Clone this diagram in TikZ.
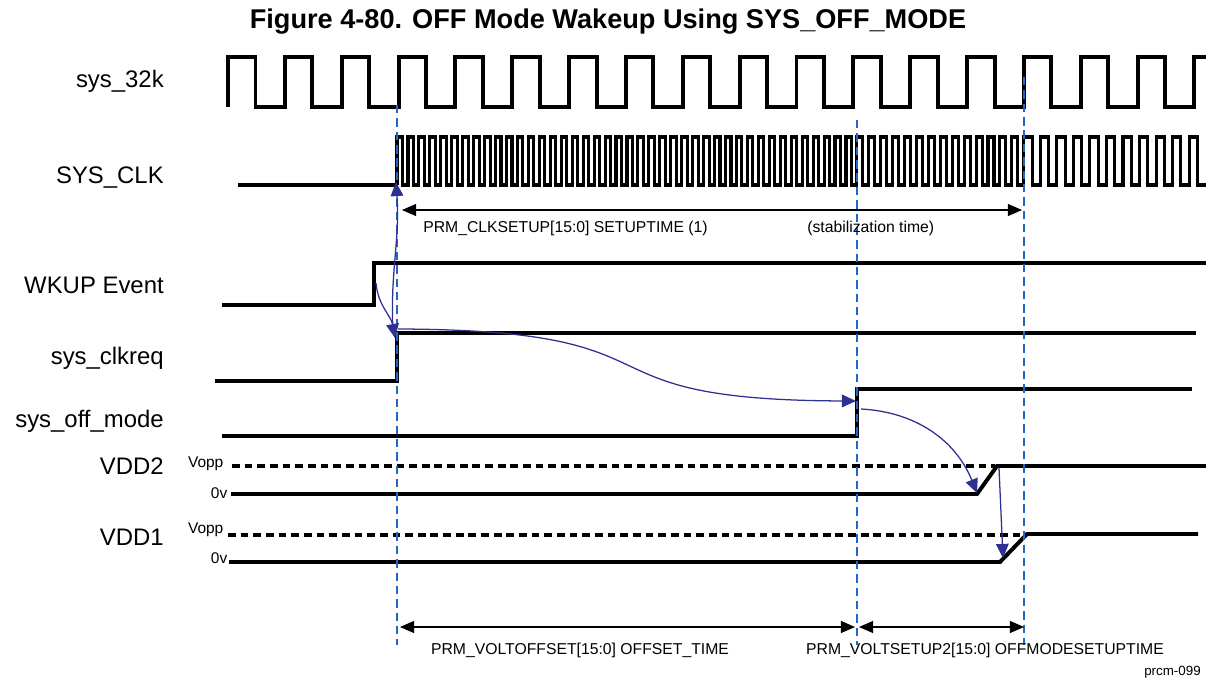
\documentclass[tikz,border=0pt]{standalone}
\usepackage{fontspec}
\setmainfont{Liberation Sans}
\usetikzlibrary{arrows,arrows.meta}
\definecolor{cblue}{RGB}{46,49,146}
\definecolor{gblue}{RGB}{31,104,200}

\begin{document}
\begin{tikzpicture}[x=0.025cm,y=-0.025cm,
signame/.style={font=\fontsize{17}{20}\selectfont,anchor=base east,inner sep=0pt},
note/.style={font=\fontsize{11.2}{13}\selectfont,inner sep=0pt},
volt/.style={font=\fontsize{11}{12}\selectfont,anchor=east,inner sep=1pt},
sig/.style={line width=2.8pt,line join=miter},
clk/.style={line width=2.2pt,line join=miter},
level/.style={line width=2.5pt,dash pattern=on 5.5pt off 3.5pt},
guide/.style={gblue,line width=0.9pt,dash pattern=on 6pt off 3.5pt},
cause/.style={cblue,line width=0.9pt,-{Triangle[length=10pt,width=9pt]}},
dimarrow/.style={line width=0.8pt,{Triangle[length=10pt,width=8.5pt]}-{Triangle[length=10pt,width=8.5pt]}}]

\useasboundingbox (0,0) rectangle (1206,679);

\node[font=\fontsize{19.3}{22}\selectfont\bfseries] (title) at (608,22) {Figure 4-80. OFF Mode Wakeup Using SYS\_OFF\_MODE};

\node[signame] (n32k) at (164,87) {sys\_32k};

\node[signame] (nclk) at (164,183) {SYS\_CLK};

\node[signame] (nwkup) at (164,293) {WKUP Event};

\node[signame] (nreq) at (164,364) {sys\_clkreq};

\node[signame] (noff) at (164,427) {sys\_off\_mode};

\node[signame] (nvdd2) at (164,474) {VDD2};

\node[signame] (nvdd1) at (164,545) {VDD1};

\node[volt] (vopp2) at (225,464) {Vopp};

\node[volt] (zero2) at (229,493) {0v};

\node[volt] (vopp1) at (225,530) {Vopp};

\node[volt] (zero1) at (229,558) {0v};

% waveforms
\draw[sig] (228,107) \foreach \k in {0,...,16} { -- ++(0,-50) -- ++(27.5,0) -- ++(0,50) -- ++(29.35,0) } -- ++(0,-50) -- (1210,57);

\draw[sig] (238,185) -- (397,185);

\draw[clk] (397,185)
  \foreach \k in {0,...,41} { -- ++(0,-48) -- ++(5.475,0) -- ++(0,48) -- ++(5.475,0) }
  \foreach \k in {0,...,13} { -- ++(0,-48) -- ++(5.96,0) -- ++(0,48) -- ++(5.96,0) }
  \foreach \k in {0,...,10} { -- ++(0,-48) -- ++(8.27,0) -- ++(0,48) -- ++(8.27,0) };

\draw[sig] (222,305) -- (374,305) -- (374,263) -- (1210,263);

\draw[sig] (215,381) -- (397,381) -- (397,333) -- (1196,333);

\draw[sig] (222,436) -- (857,436) -- (857,389) -- (1192,389);

\draw[level] (232,466) -- (995,466);

\draw[sig] (231,494) -- (977,494) -- (997,466) -- (1210,466);

\draw[level] (228,535) -- (1025,535);

\draw[sig] (229,562) -- (1000,562) -- (1027,534) -- (1198,534);

% guide lines
\coordinate (g1t) at (397,105);
\coordinate (g1b) at (397,645);
\coordinate (g2t) at (857,120);
\coordinate (g2b) at (857,645);
\coordinate (g3t) at (1024,77);
\coordinate (g3b) at (1024,645);

\draw[guide] (g1t) -- (g1b);

\draw[guide] (g2t) -- (g2b);

\draw[guide] (g3t) -- (g3b);

% cause and effect
\coordinate (wkEdge) at (376,283);
\coordinate (reqCorner) at (395,338);
\coordinate (reqEdge) at (393,331);
\coordinate (clkEdge) at (396,182);
\coordinate (reqHigh) at (398,329);
\coordinate (offEdge) at (856,401);
\coordinate (offHigh) at (861,409);
\coordinate (vdd2Low) at (977,493);
\coordinate (vdd2Top) at (999,468);
\coordinate (vdd1Low) at (1003,558);

\draw[cause] (wkEdge) to[out=-85,in=100] (reqCorner);

\draw[cause] (reqEdge) to[out=93,in=-86] (clkEdge);

\draw[cause] (reqHigh) .. controls (700,330) and (560,400) .. (offEdge);

\draw[cause] (offHigh) to[out=-3,in=112] (vdd2Low);

\draw[cause] (vdd2Top) -- (vdd1Low);

% timing spans
\coordinate (setupL) at (402,210);
\coordinate (setupR) at (1022,210);
\coordinate (offL) at (400,627);
\coordinate (offM) at (855,627);
\coordinate (offN) at (859,627);
\coordinate (offR) at (1024,627);

\draw[dimarrow] (setupL) -- (setupR);

\draw[dimarrow] (offL) -- (offM);

\draw[dimarrow] (offN) -- (offR);

\node[note,anchor=west] (setupTxt) at (423,228) {PRM\_CLKSETUP[15:0] SETUPTIME (1)};

\node[note,anchor=west] (stabTxt) at (807,228) {(stabilization time)};

\node[note] (offsetTxt) at (580,650) {PRM\_VOLTOFFSET[15:0] OFFSET\_TIME};

\node[note] (voltTxt) at (985,650) {PRM\_VOLTSETUP2[15:0] OFFMODESETUPTIME};

\node[note,font=\fontsize{9.5}{11}\selectfont,anchor=east] (figId) at (1201,672) {prcm-099};

\end{tikzpicture}
\end{document}
